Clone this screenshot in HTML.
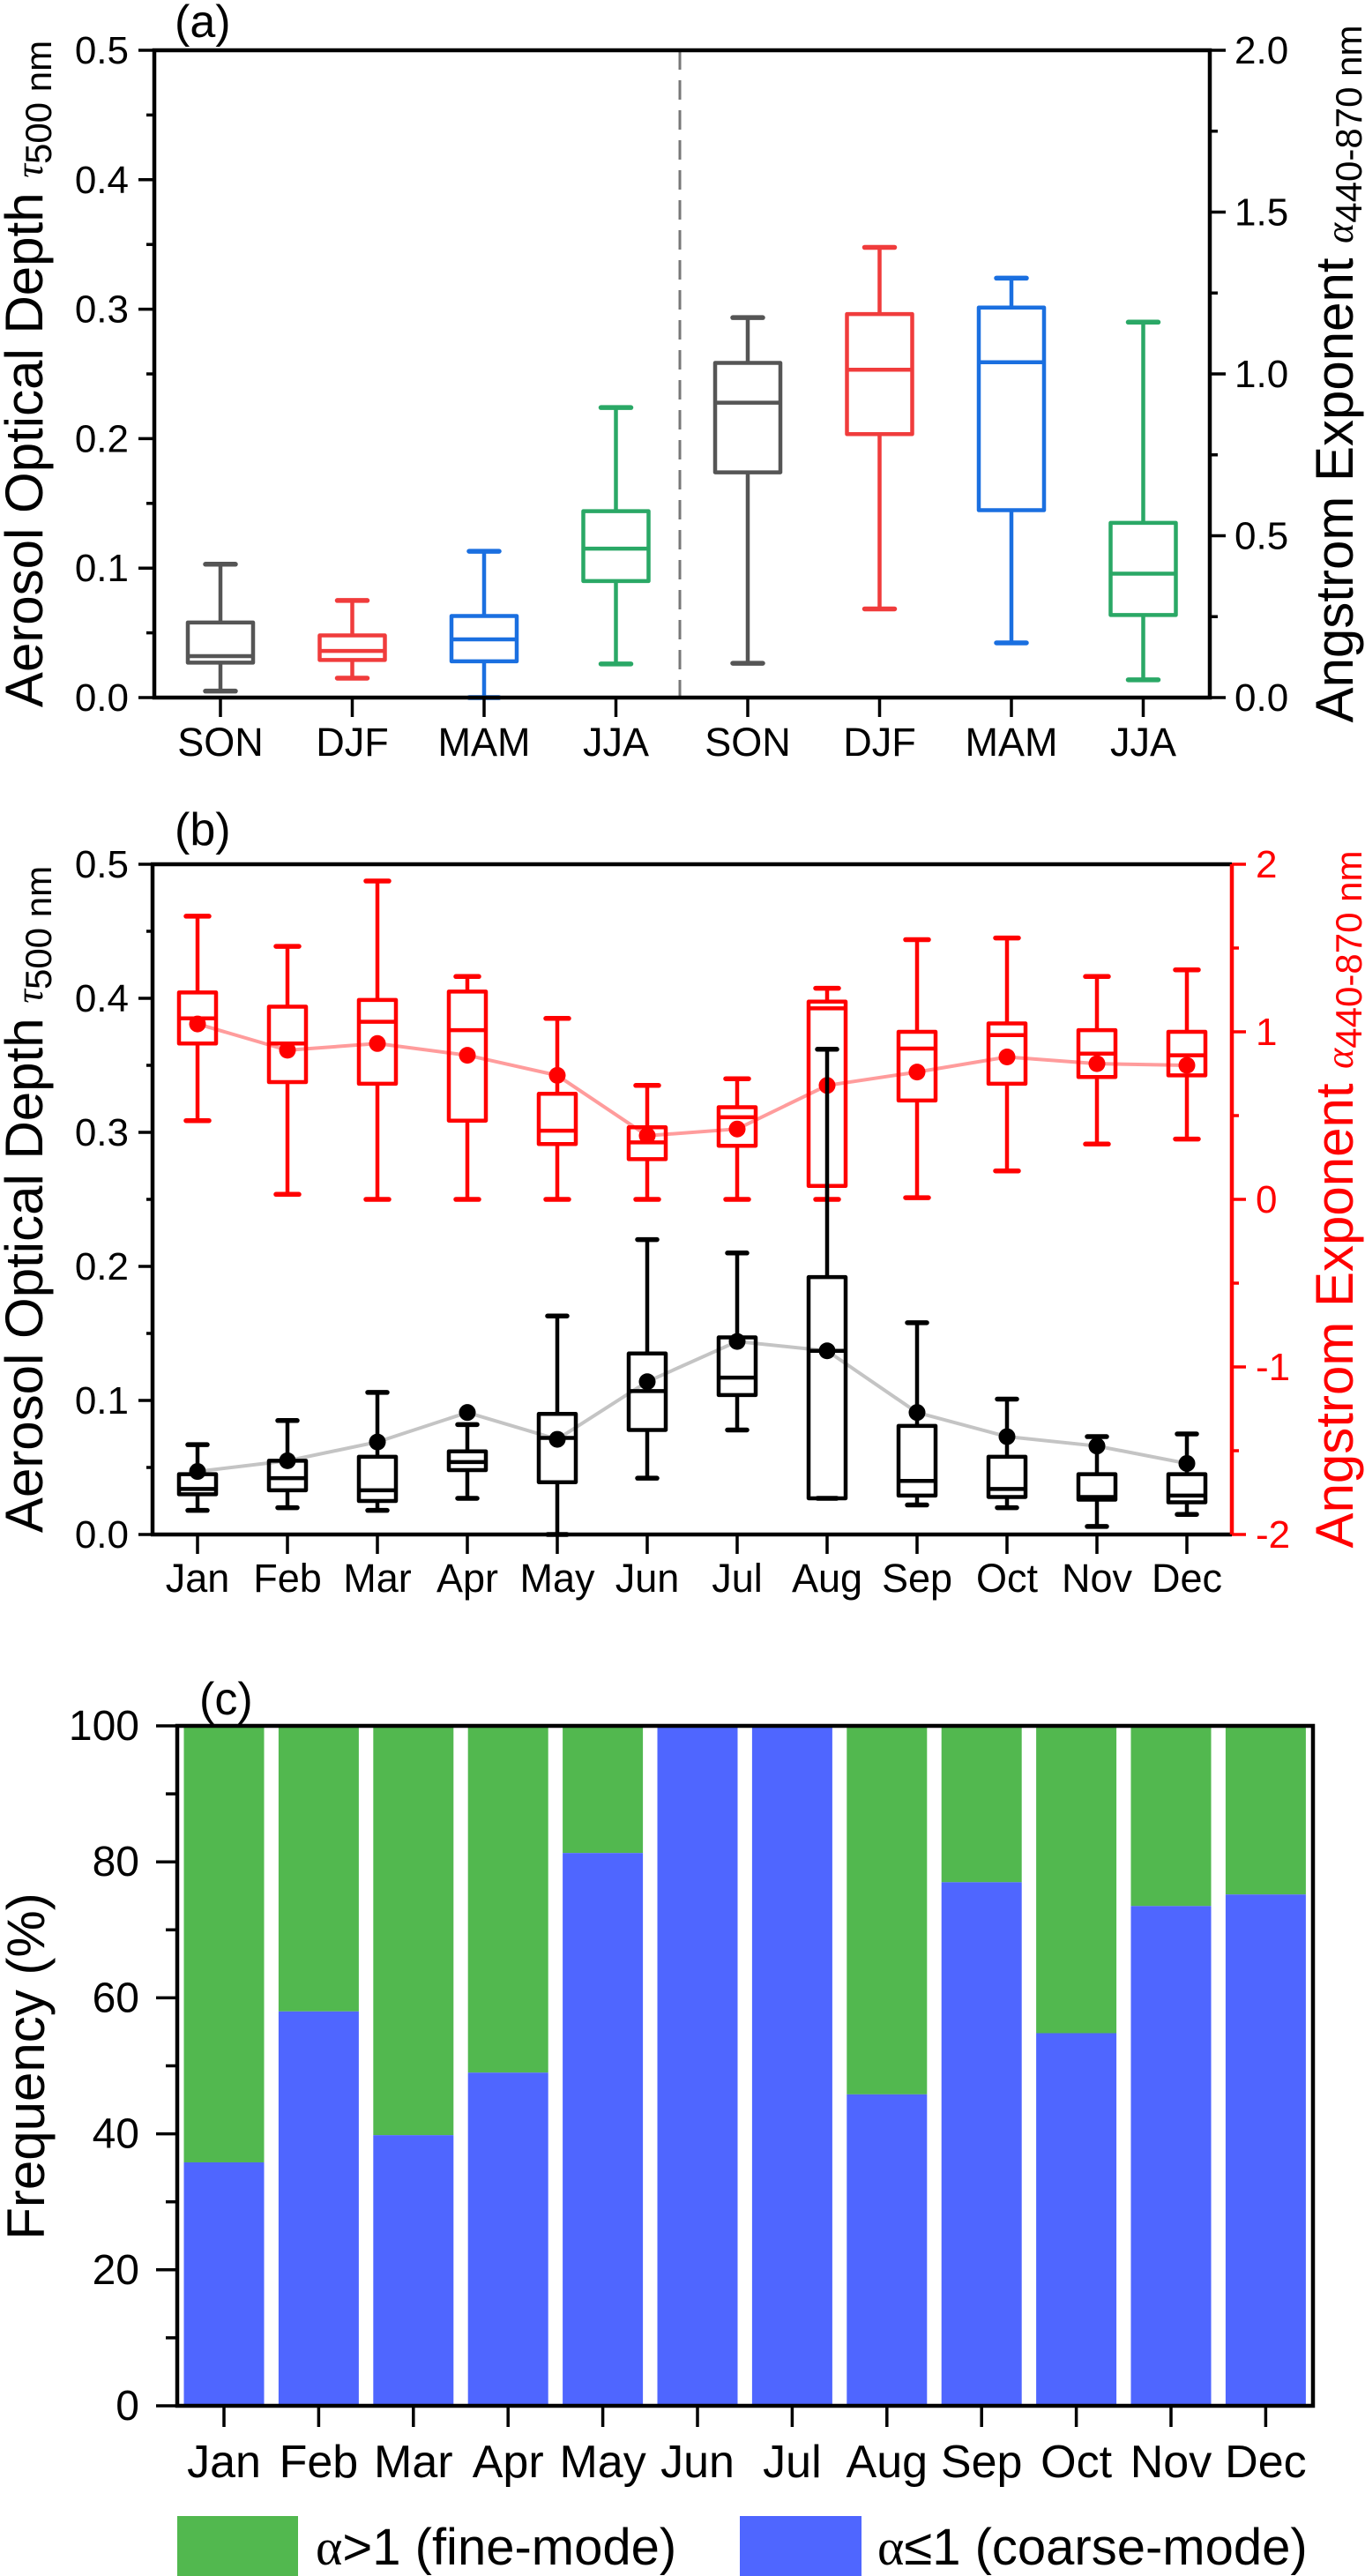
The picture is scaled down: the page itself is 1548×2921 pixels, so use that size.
<!DOCTYPE html>
<html><head><meta charset="utf-8"><title>AOD and Angstrom Exponent</title>
<style>
html,body{margin:0;padding:0;background:#fff;}
svg{display:block;font-family:"Liberation Sans",Arial,sans-serif;}
</style></head>
<body>
<svg id="fig" width="1548" height="2921" viewBox="0 0 1548 2921" xmlns="http://www.w3.org/2000/svg"></svg>
<script>
// ---------- Panel (a) data ----------
const seasonCats = ["SON","DJF","MAM","JJA"];
const seasonColors = ["#555555","#f03c3c","#1a6fe0","#2aa866"];
const aodSeasonMin = [0.005,0.015,0.0,0.026];
const aodSeasonQ1  = [0.027,0.029,0.028,0.090];
const aodSeasonMed = [0.032,0.036,0.045,0.115];
const aodSeasonQ3  = [0.058,0.048,0.063,0.144];
const aodSeasonMax = [0.103,0.075,0.113,0.224];
const aeSeasonMin = [0.106,0.274,0.169,0.055];
const aeSeasonQ1  = [0.696,0.814,0.579,0.255];
const aeSeasonMed = [0.911,1.013,1.036,0.383];
const aeSeasonQ3  = [1.034,1.185,1.205,0.540];
const aeSeasonMax = [1.174,1.391,1.296,1.160];
const aTicksLeft = ["0.0","0.1","0.2","0.3","0.4","0.5"];
const aTicksRight = ["0.0","0.5","1.0","1.5","2.0"];

// ---------- Panel (b) data ----------
const months = ["Jan","Feb","Mar","Apr","May","Jun","Jul","Aug","Sep","Oct","Nov","Dec"];
const aodMin  = [0.018,0.020,0.018,0.027,0.0,0.042,0.078,0.027,0.022,0.020,0.006,0.015];
const aodQ1   = [0.030,0.033,0.025,0.048,0.039,0.078,0.104,0.027,0.029,0.028,0.026,0.024];
const aodMed  = [0.034,0.042,0.033,0.054,0.072,0.107,0.117,0.137,0.040,0.034,0.028,0.029];
const aodQ3   = [0.045,0.055,0.058,0.062,0.090,0.135,0.147,0.192,0.081,0.058,0.045,0.045];
const aodMax  = [0.067,0.085,0.106,0.082,0.163,0.220,0.210,0.362,0.158,0.101,0.073,0.075];
const aodMean = [0.047,0.055,0.069,0.091,0.071,0.114,0.144,0.137,0.091,0.073,0.066,0.053];
const aeMin  = [0.47,0.03,0.0,0.0,0.0,0.0,0.0,0.0,0.01,0.17,0.33,0.36];
const aeQ1   = [0.93,0.70,0.69,0.47,0.33,0.24,0.32,0.08,0.59,0.69,0.73,0.74];
const aeMed  = [1.08,0.93,1.06,1.01,0.41,0.34,0.49,1.14,0.90,0.98,0.87,0.86];
const aeQ3   = [1.235,1.15,1.19,1.24,0.63,0.43,0.55,1.18,1.00,1.05,1.01,1.00];
const aeMax  = [1.69,1.51,1.90,1.33,1.08,0.68,0.72,1.26,1.55,1.56,1.33,1.37];
const aeMean = [1.047,0.89,0.93,0.86,0.74,0.38,0.42,0.68,0.76,0.85,0.81,0.80];
const bTicksLeft = ["0.0","0.1","0.2","0.3","0.4","0.5"];
const bTicksRight = ["-2","-1","0","1","2"];

// ---------- Panel (c) data ----------
const coarsePct = [35.8,58,39.8,49,81.3,100,100,45.8,77,54.8,73.5,75.2];
const cTicks = ["0","20","40","60","80","100"];

const NS = "http://www.w3.org/2000/svg";
const svg = document.getElementById("fig");
function el(tag, attrs, parent){
  const e = document.createElementNS(NS, tag);
  for (const k in attrs) e.setAttribute(k, attrs[k]);
  (parent||svg).appendChild(e);
  return e;
}
function line(x1,y1,x2,y2,stroke,w,parent){
  return el("line",{x1:x1,y1:y1,x2:x2,y2:y2,stroke:stroke,"stroke-width":w,"stroke-linecap":"butt"},parent);
}
function text(x,y,str,size,anchor,fill,parent){
  const t = el("text",{x:x,y:y,"font-size":size,"text-anchor":anchor||"start",fill:fill||"#000"},parent);
  t.textContent = str; return t;
}
function boxplot(g, cx, w, cap, ys, color, lw){
  line(cx, ys[0], cx, ys[1], color, lw, g);
  line(cx, ys[3], cx, ys[4], color, lw, g);
  line(cx-cap/2, ys[0], cx+cap/2, ys[0], color, lw+1, g).setAttribute("stroke-linecap","round");
  line(cx-cap/2, ys[4], cx+cap/2, ys[4], color, lw+1, g).setAttribute("stroke-linecap","round");
  el("rect",{x:cx-w/2,y:ys[3],width:w,height:ys[1]-ys[3],fill:"none",stroke:color,"stroke-width":lw,"stroke-linejoin":"round"},g);
  line(cx-w/2, ys[2], cx+w/2, ys[2], color, lw, g);
}
function yTitle(x, cy, main, sub, fill, name){
  const t = el("text",{transform:"translate("+x+","+cy+") rotate(-90)","text-anchor":"middle","font-size":60,fill:fill});
  
  
  const s1 = el("tspan",{},t); s1.textContent = main;
  const s2 = el("tspan",{"font-size":44,"font-family":"Liberation Serif, serif","font-style":"italic"},t); s2.textContent = sub[0];
  const s3 = el("tspan",{"font-size":42,dy:10},t); s3.textContent = sub[1];
  return t;
}

// ================= Panel (a) =================
(function(){
  const g = el("g",{});
  
  
  const L=175,R=1372,T=57,B=791;
  const yL = v => B - (v/0.5)*(B-T);
  const yR = v => B - (v/2.0)*(B-T);
  const xs = i => 250 + i*149.5;
  const dl = line(771,T,771,B,"#777",3,g); dl.setAttribute("stroke-dasharray","22,12");
  
  
  for (let i=0;i<4;i++){
    const b = el("g",{},g);
    
    
    boxplot(b, xs(i), 74, 34, [yL(aodSeasonMin[i]),yL(aodSeasonQ1[i]),yL(aodSeasonMed[i]),yL(aodSeasonQ3[i]),yL(aodSeasonMax[i])], seasonColors[i], 4.5);
    const b2 = el("g",{},g);
    
    
    boxplot(b2, xs(i+4), 74, 34, [yR(aeSeasonMin[i]),yR(aeSeasonQ1[i]),yR(aeSeasonMed[i]),yR(aeSeasonQ3[i]),yR(aeSeasonMax[i])], seasonColors[i], 4.5);
  }
  const fr = el("rect",{x:L,y:T,width:R-L,height:B-T,fill:"none",stroke:"#000","stroke-width":4.5},g);
  
  
  for (let k=0;k<=10;k++){
    const y=yL(k*0.05);
    line(k%2===0?157:166, y, L, y, "#000", 3.5, g);
  }
  aTicksLeft.forEach((s,k)=>{ const t=text(146, yL(k*0.1)+15, s, 44, "end", "#000", g);
    
     });
  for (let k=0;k<=8;k++){
    const y=yR(k*0.25);
    line(R, y, k%2===0?1390:1381, y, "#000", 3.5, g);
  }
  aTicksRight.forEach((s,k)=>{ const t=text(1400, yR(k*0.5)+15, s, 44, "start", "#000", g);
    
     });
  for (let i=0;i<8;i++){
    line(xs(i), B, xs(i), B+22, "#000", 3.5, g);
    const t = text(xs(i), B+66, seasonCats[i%4], 45, "middle", "#000", g);
    
    
  }
  const pl = text(198, 42, "(a)", 52, "start", "#000", g);
  
  
  yTitle(48, 424, "Aerosol Optical Depth ", ["τ","500 nm"], "#000", "y-axis-title-left-a");
  yTitle(1534, 424, "Angstrom Exponent ", ["α","440-870 nm"], "#000", "y-axis-title-right-a");
})();

// ================= Panel (b) =================
(function(){
  const g = el("g",{});
  
  
  const L=173,R=1397,T=980,B=1740;
  const yL = v => B - (v/0.5)*(B-T);
  const yR = v => B - ((v+2)/4)*(B-T);
  const xs = i => 224 + i*102;
  const red = "#ff0000";
  const rl = el("polyline",{points:aeMean.map((v,i)=>xs(i)+","+yR(v)).join(" "),fill:"none",stroke:"#ff9c9c","stroke-width":4},g);
  
  
  for (let i=0;i<12;i++){
    const b = el("g",{},g);
    
    
    boxplot(b, xs(i), 42, 26, [yR(aeMin[i]),yR(aeQ1[i]),yR(aeMed[i]),yR(aeQ3[i]),yR(aeMax[i])], red, 4.5);
  }
  for (let i=0;i<12;i++){
    const c = el("circle",{cx:xs(i),cy:yR(aeMean[i]),r:9.5,fill:red},g);
    
    
  }
  const bl = el("polyline",{points:aodMean.map((v,i)=>xs(i)+","+yL(v)).join(" "),fill:"none",stroke:"#c4c4c4","stroke-width":4},g);
  
  
  for (let i=0;i<12;i++){
    const b = el("g",{},g);
    
    
    boxplot(b, xs(i), 42, 22, [yL(aodMin[i]),yL(aodQ1[i]),yL(aodMed[i]),yL(aodQ3[i]),yL(aodMax[i])], "#000", 4.5);
  }
  for (let i=0;i<12;i++){
    const c = el("circle",{cx:xs(i),cy:yL(aodMean[i]),r:9.5,fill:"#000"},g);
    
    
  }
  line(L-2,T,R,T,"#000",4.5,g);
  line(L-2,B,R,B,"#000",4.5,g);
  line(L,T,L,B,"#000",4.5,g);
  const ra = line(R,T,R,B,red,4.5,g);
  
  
  for (let k=0;k<=10;k++){
    const y=yL(k*0.05);
    line(k%2===0?157:166, y, L, y, "#000", 3.5, g);
  }
  bTicksLeft.forEach((s,k)=>{ const t=text(146, yL(k*0.1)+15, s, 44, "end", "#000", g);
    
     });
  for (let k=0;k<=8;k++){
    const y=yR(-2+k*0.5);
    line(R, y, k%2===0?1413:1405, y, red, 3.5, g);
  }
  bTicksRight.forEach((s,k)=>{ const t=text(1424, yR(-2+k)+15, s, 44, "start", red, g);
    
     });
  for (let i=0;i<12;i++){
    line(xs(i), B, xs(i), B+22, "#000", 3.5, g);
    const t = text(xs(i), B+65, months[i], 45, "middle", "#000", g);
    
    
  }
  const pl = text(198, 958, "(b)", 52, "start", "#000", g);
  
  
  yTitle(48, 1360, "Aerosol Optical Depth ", ["τ","500 nm"], "#000", "y-axis-title-left-b");
  yTitle(1534, 1360, "Angstrom Exponent ", ["α","440-870 nm"], red, "y-axis-title-right-b");
})();

// ================= Panel (c) =================
(function(){
  const g = el("g",{});
  
  
  const L=201,R=1489,T=1957,B=2728;
  const y = v => B - (v/100)*(B-T);
  const xs = i => 254 + i*107.4;
  const bw = 91;
  for (let i=0;i<12;i++){
    const gr = el("rect",{x:xs(i)-bw/2,y:y(100),width:bw,height:y(coarsePct[i])-y(100),fill:"#52b84f"},g);
    
    
    const bl = el("rect",{x:xs(i)-bw/2,y:y(coarsePct[i]),width:bw,height:y(0)-y(coarsePct[i]),fill:"#4f66ff"},g);
    
    
  }
  const fr = el("rect",{x:L,y:T,width:R-L,height:B-T,fill:"none",stroke:"#000","stroke-width":4.5},g);
  
  
  for (let k=0;k<=10;k++){
    const yy=y(k*10);
    line(k%2===0?177:188, yy, L, yy, "#000", 3.5, g);
  }
  cTicks.forEach((s,k)=>{ const t=text(158, y(k*20)+16, s, 48, "end", "#000", g);
    
     });
  for (let i=0;i<12;i++){
    line(xs(i), B, xs(i), B+24, "#000", 3.5, g);
    const t = text(xs(i), 2809, months[i], 52, "middle", "#000", g);
    
    
  }
  const pl = text(226, 1944, "(c)", 52, "start", "#000", g);
  
  
  const yt = el("text",{transform:"translate(50,2343) rotate(-90)","text-anchor":"middle","font-size":60},g);
  
  
  yt.textContent = "Frequency (%)";
  const lg = el("g",{},g);
  
  
  const r1 = el("rect",{x:201,y:2853,width:137,height:68,fill:"#52b84f"},lg);
  
  
  const t1 = el("text",{x:358,y:2908,"font-size":58},lg);
  
  
  const a1 = el("tspan",{"font-family":"Liberation Serif, serif"},t1); a1.textContent="α";
  const b1 = el("tspan",{},t1); b1.textContent=">1 (fine-mode)";
  const r2 = el("rect",{x:839,y:2853,width:138,height:68,fill:"#4f66ff"},lg);
  
  
  const t2 = el("text",{x:995,y:2908,"font-size":58},lg);
  
  
  const a2 = el("tspan",{"font-family":"Liberation Serif, serif"},t2); a2.textContent="α";
  const b2 = el("tspan",{},t2); b2.textContent="≤1 (coarse-mode)";
})();
</script>
</body></html>
